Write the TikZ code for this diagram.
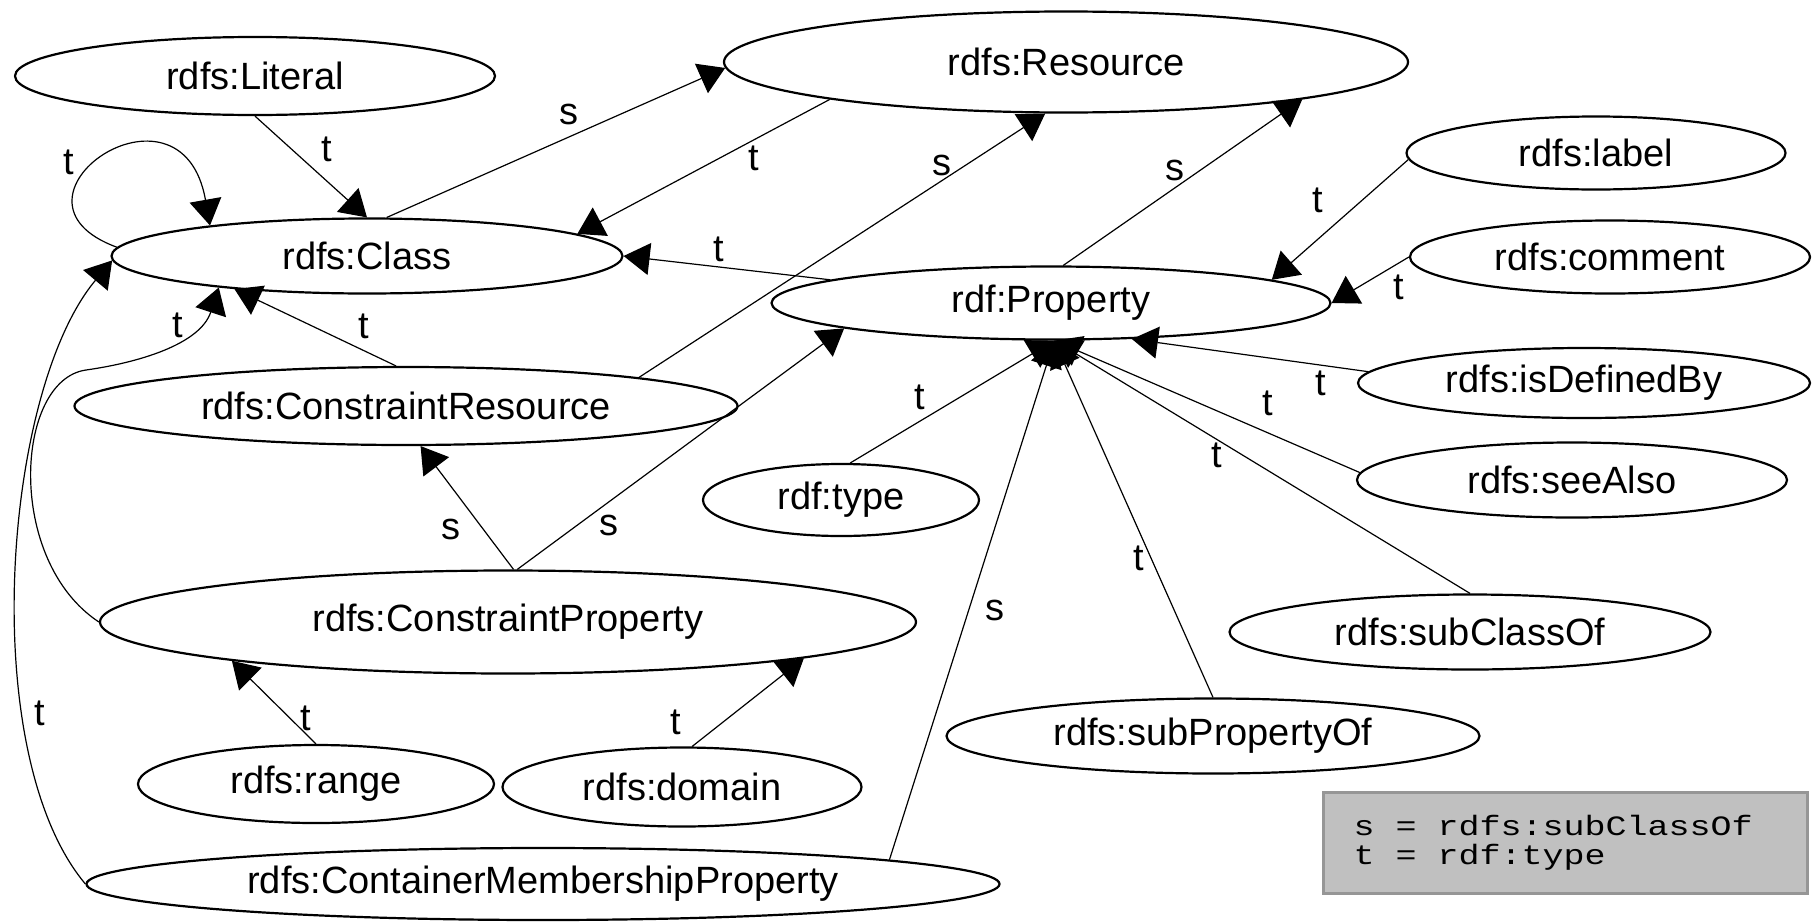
\documentclass[tikz,border=0pt]{standalone}
\usepackage{fontspec}
\setmainfont{Liberation Sans}
\newfontfamily\keyfont[FakeStretch=1.25]{Liberation Mono}
\usetikzlibrary{shapes.geometric,arrows.meta}
\definecolor{keygray}{RGB}{192,192,192}
\definecolor{keyline}{RGB}{150,150,150}

\begin{document}
\begin{tikzpicture}[x=.5pt,y=-.5pt,
  res/.style={ellipse,draw,line width=1.1pt,inner sep=0pt,font=\fontsize{19pt}{22pt}\selectfont},
  arr/.style={-{Triangle[length=13pt,width=16pt]},line width=.6pt},
  lbl/.style={inner sep=0pt,font=\fontsize{19pt}{22pt}\selectfont}]
\useasboundingbox (0,0) rectangle (1814,921);
% the resources
\foreach \n/\x/\y/\w/\h/\t in {
  lit/255/76/240/39/rdfs:Literal,
  res/1066/62/342/50.5/rdfs:Resource,
  cls/367/256/255.5/37.5/rdfs:Class,
  prop/1051/303/279.5/36.5/rdf:Property,
  lab/1596/153/189.5/36.5/rdfs:label,
  com/1610/257/200/36.5/rdfs:comment,
  isd/1584/383/226/35/rdfs:isDefinedBy,
  see/1572/480/215/37.5/rdfs:seeAlso,
  sco/1470/632/240.5/37.5/rdfs:subClassOf,
  spo/1213/736/266.5/37.5/rdfs:subPropertyOf,
  typ/841/500/138/36/rdf:type,
  cres/406/406/331.5/39/rdfs:ConstraintResource,
  cprop/508/622/408/51.5/rdfs:ConstraintProperty,
  rng/316/784/178/39/rdfs:range,
  dom/682/787/179.5/39.5/rdfs:domain,
  cmp/543/884/456.5/36/rdfs:ContainerMembershipProperty}
  \node[res,minimum width=\w pt,minimum height=\h pt] (\n) at (\x,\y) {\t};
% key
\node[fill=keygray,draw=keyline,line width=1.5pt,text width=212pt,inner xsep=15pt,
  minimum height=50.5pt,align=left,font=\keyfont\fontsize{14pt}{14.5pt}\selectfont]
  (key) at (1565.5,842.5) {\spaceskip=10.5pt\relax s = rdfs:subClassOf\\t = rdf:type};
% edges
\draw[arr] (lit.-90) -- node[lbl,pos=.33,xshift=17.5pt] {t} (cls.90);
\draw[arr] (cls.63) -- node[lbl,pos=.54,yshift=11pt] {s} (res.181);
\draw[arr] (res.-171) -- node[lbl,pos=.3,yshift=-9.5pt] {t} (cls.6);
\draw[arr] (cls.178) to[out=160,in=100,out distance=70pt,in distance=82pt]
  node[lbl,pos=.4,xshift=-8pt,yshift=5pt] {t} (cls.169);
\draw[arr] (cres.104) -- node[lbl,pos=.2,yshift=12pt] {t} (cls.-166);
\draw[arr] (cres.7) -- node[lbl,pos=.746,yshift=7.5pt] {s} (res.-112);
\draw[arr] (prop.174) -- node[lbl,pos=.54,yshift=9pt] {t} (cls.0);
\draw[arr] (prop.72) -- node[lbl,pos=.466,yshift=9pt] {s} (res.-9.5);
\draw[arr] (cprop.84) -- node[lbl,pos=.32,xshift=-16.5pt] {s} (cres.-70);
\draw[arr] (cprop.80) -- node[lbl,pos=.28,yshift=-12pt] {s} (prop.-173);
\draw[arr] (rng.90) -- node[lbl,pos=.31,xshift=8pt] {t} (cprop.-172);
\draw[arr] (dom.76) -- node[lbl,pos=.27,xshift=-23pt] {t} (cprop.-7);
\draw[arr] (cmp.4) -- node[lbl,pos=.48,xshift=13pt] {s} (prop.-85);
\draw[arr] (cmp.180) to[out=130,in=-130,out distance=85pt,in distance=85pt]
  node[lbl,pos=.3,xshift=8.5pt,yshift=1.5pt] {t} (cls.181);
\draw[arr] (cprop.180) .. controls (5,560) and (15,380) .. (86,370)
  .. controls (136,363) and (200,345) .. (cls.-168) node[lbl,pos=.5,xshift=7pt,yshift=11pt] {t};
% properties typed rdf:Property
\foreach \s/\a/\b/\p/\dx/\dy in {
  lab/182/6/.34/-22/0,
  com/180/0/.67/21/0,
  isd/177/-24/.2/0/-9,
  see/178/-85/.3/0/15,
  sco/90/-85/.61/0/-8,
  spo/90/-85/.39/-6/0,
  typ/76/-85/.34/0/12}
  \draw[arr] (\s.\a) -- node[lbl,pos=\p,xshift=\dx pt,yshift=\dy pt] {t} (prop.\b);
\end{tikzpicture}
\end{document}
